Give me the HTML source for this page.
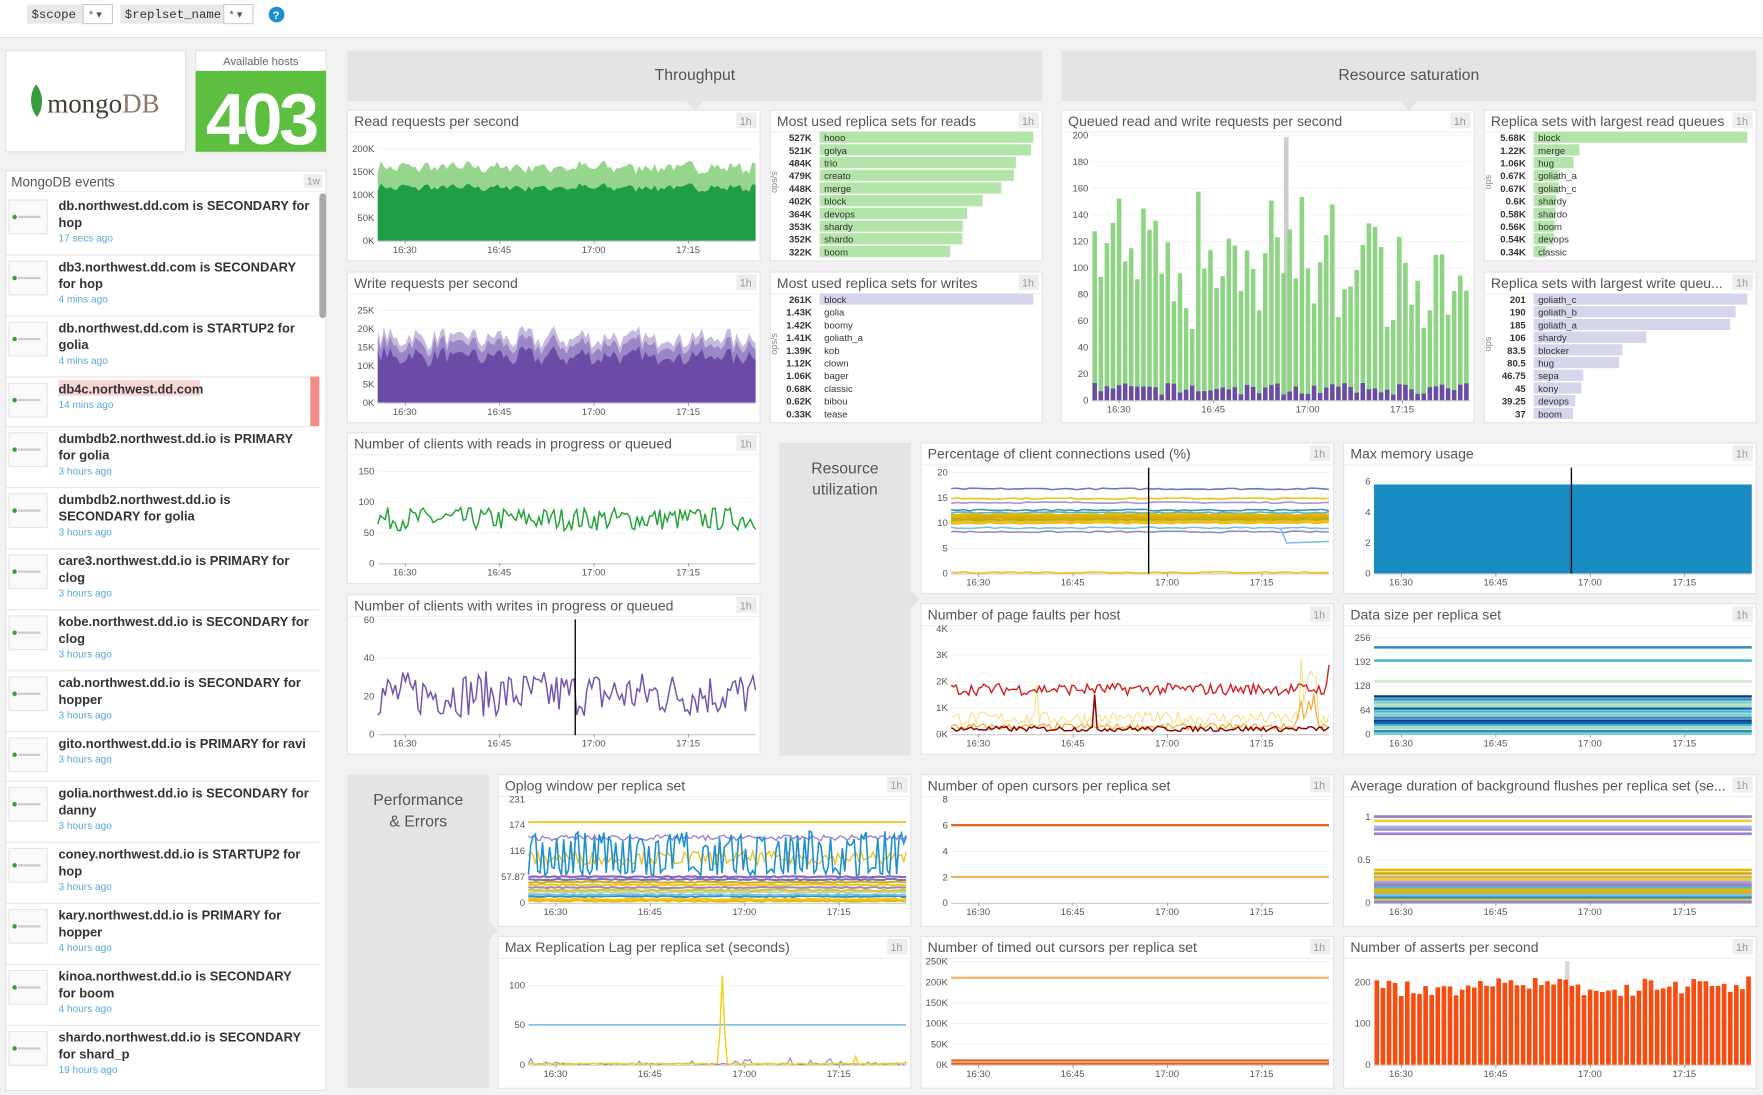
<!DOCTYPE html>
<html><head><meta charset="utf-8"><style>
html,body{margin:0;padding:0;width:1763px;height:1095px;overflow:hidden;background:#f2f2f2}
svg{display:block;font-family:"Liberation Sans",sans-serif}
</style></head><body>
<svg id="s" width="1763" height="1095" viewBox="0 0 1568 974" preserveAspectRatio="none" xmlns="http://www.w3.org/2000/svg"></svg>
<script>
var S=document.getElementById('s'),out=[];
function A(t){out.push(t)}
var seed=7;function R(){seed=(seed*16807)%2147483647;return (seed-1)/2147483646}
function rect(x,y,w,h,f,ex){A('<rect x="'+x+'" y="'+y+'" width="'+w+'" height="'+h+'" fill="'+f+'" '+(ex||'')+'/>')}
function text(x,y,t,sz,f,ex){A('<text x="'+x+'" y="'+y+'" font-size="'+sz+'" fill="'+f+'" '+(ex||'')+'>'+t+'</text>')}
// top bar
rect(0,0,1568,33,'#fff');rect(0,33,1568,1,'#ddd');
rect(24,4,50,17,'#e8e8e8');text(28,16,'$scope',11,'#333','font-family="Liberation Mono"');
rect(74,4,26,17,'#fff','stroke="#ccc"');text(79,16,'* ▾',10,'#555');
rect(107,4,92,17,'#e8e8e8');text(111,16,'$replset_name',11,'#333','font-family="Liberation Mono"');
rect(199,4,26,17,'#fff','stroke="#ccc"');text(204,16,'* ▾',10,'#555');
A('<circle cx="246" cy="13" r="7" fill="#1d8fd6"/>');text(242.5,17,'?',10,'#fff','font-weight="bold"');
// mongo logo
rect(5,45,160,90,'#fff','stroke="#e2e2e2"');
A('<path d="M32 75 C26 83 26 96 33 104 C39 96 39 83 32 75Z" fill="#3a9b3a"/>');
A('<text x="42" y="100" font-size="24" font-family="Liberation Serif" fill="#4a3c31">mongo<tspan fill="#8a7a66">DB</tspan></text>');
// hosts
rect(174,45,116,90,'#fff','stroke="#e2e2e2"');text(232,58,'Available hosts',10,'#666','text-anchor="middle"');
rect(174,63,116,72,'#5cbf3f');text(232,128,'403',64,'#fff','text-anchor="middle" font-weight="bold" letter-spacing="-3"');
// events
rect(5,152,285,818,'#fff','stroke="#e2e2e2"');text(10,166,'MongoDB events',12,'#555');
rect(270,155,17,12,'#eee');text(273,164,'1w',9,'#999');rect(5,170,285,1,'#eee');
rect(284,172,6,111,'#aaa','rx="3"');
var ev=[['db.northwest.dd.com is SECONDARY for','hop','17 secs ago'],['db3.northwest.dd.com is SECONDARY','for hop','4 mins ago'],['db.northwest.dd.com is STARTUP2 for','golia','4 mins ago'],['db4c.northwest.dd.com',null,'14 mins ago'],['dumbdb2.northwest.dd.io is PRIMARY','for golia','3 hours ago'],['dumbdb2.northwest.dd.io is','SECONDARY for golia','3 hours ago'],['care3.northwest.dd.io is PRIMARY for','clog','3 hours ago'],['kobe.northwest.dd.io is SECONDARY for','clog','3 hours ago'],['cab.northwest.dd.io is SECONDARY for','hopper','3 hours ago'],['gito.northwest.dd.io is PRIMARY for ravi',null,'3 hours ago'],['golia.northwest.dd.io is SECONDARY for','danny','3 hours ago'],['coney.northwest.dd.io is STARTUP2 for','hop','3 hours ago'],['kary.northwest.dd.io is PRIMARY for','hopper','4 hours ago'],['kinoa.northwest.dd.io is SECONDARY','for boom','4 hours ago'],['shardo.northwest.dd.io is SECONDARY','for shard_p','19 hours ago']];
var ey=172;
ev.forEach(function(e,i){var h=e[1]?54.3:44;
 if(i==3){rect(52,338,126,14,'#f9d6d6');rect(276,ey,8,h,'#f28b82');}
 rect(8,ey+6,34,30,'#fafafa','stroke="#e5e5e5"');A('<circle cx="13" cy="'+(ey+21)+'" r="2" fill="#3a9b3a"/>');rect(16,ey+20,20,2,'#ccc');
 text(52,ey+15,e[0],11.5,'#333','font-weight="bold"');
 if(e[1])text(52,ey+30,e[1],11.5,'#333','font-weight="bold"');
 text(52,ey+(e[1]?43:28),e[2],9,'#5aa7db');
 ey+=h;if(i<14)rect(5,ey,279,1,'#e6e6e6');});
// section headers
function hdr(x,w,t){rect(x,45,w,45,'#e4e4e4');A('<path d="M'+(x+w/2-8)+' 90 L'+(x+w/2)+' 98 L'+(x+w/2+8)+' 90Z" fill="#e4e4e4"/>');text(x+w/2,71,t,14,'#555','text-anchor="middle"');}
hdr(309,618,'Throughput');hdr(944,618,'Resource saturation');
function side(x,y,w,h,l1,l2,py){rect(x,y,w,h,'#e4e4e4');A('<path d="M'+(x+w)+' '+(py-8)+' L'+(x+w+8)+' '+py+' L'+(x+w)+' '+(py+8)+'Z" fill="#e4e4e4"/>');text(x+w/2,y+27,l1,14,'#555','text-anchor="middle"');text(x+w/2,y+46,l2,14,'#555','text-anchor="middle"');}
side(693,394,117,278,'Resource','utilization',533);side(309,689,126,279,'Performance','&amp; Errors',828);
function panel(x,y,w,h,t){rect(x,y,w,h,'#fff','stroke="#e4e4e4"');text(x+6,y+14,t,12.5,'#555');rect(x+w-21,y+2,18,14,'#eee');text(x+w-18,y+13,'1h',9.5,'#999');rect(x,y+19,w,1,'#f0f0f0');}
function chart(x,y,w,h,t,ymax,ticks,lab,o){o=o||{};panel(x,y,w,h,t);
 var L=x+(o.l||27),Rr=x+w-4,T=y+(o.t||34),B=y+h-(o.b||18);
 var c={L:L,R:Rr,T:T,B:B,X:function(m){return L+24*(Rr-L)/336+m*(Rr-L)/60},Y:function(v){return B-(v/ymax)*(B-T)}};
 ticks.forEach(function(v,i){var yy=c.Y(v);rect(L,yy,Rr-L,0.6,'#eee');text(L-3,yy+3,lab[i],8.5,'#555','text-anchor="end"');});
 rect(L,B,Rr-L,1,'#ccc');
 ['16:30','16:45','17:00','17:15'].forEach(function(s,i){var xx=c.X(i*15);rect(xx,B,0.8,3,'#999');text(xx,B+11,s,8.5,'#555','text-anchor="middle"');});
 return c;}
function series(c,n,f){var p=[];for(var i=0;i<=n;i++){var m=-4.3+60*i/n;p.push([c.X(m),c.Y(f(i,m))]);}return p;}
function line(p,col,sw){A('<polyline points="'+p.map(function(q){return q[0].toFixed(1)+','+q[1].toFixed(1)}).join(' ')+'" fill="none" stroke="'+col+'" stroke-width="'+(sw||1.2)+'"/>')}
function area(c,p,col){A('<polygon points="'+c.L+','+c.B+' '+p.map(function(q){return q[0].toFixed(1)+','+q[1].toFixed(1)}).join(' ')+' '+c.R+','+c.B+'" fill="'+col+'"/>')}
function clamp(c,p){p[0][0]=c.L;p[p.length-1][0]=c.R;return p}
var c=chart(309,98,367,134,'Read requests per second',200,[0,50,100,150,200],['0K','50K','100K','150K','200K']);
var base=[];for(var i=0;i<=120;i++)base.push(R());
area(c,clamp(c,series(c,120,function(i){return 148+base[i]*22+Math.sin(i*.9)*6})),'#95d68c');
area(c,clamp(c,series(c,120,function(i){return 108+base[i]*14+Math.sin(i*.9)*4})),'#1f9e45');
c=chart(309,242,367,134,'Write requests per second',25,[0,5,10,15,20,25],['0K','5K','10K','15K','20K','25K']);
base=[];for(i=0;i<=120;i++)base.push(R());
area(c,clamp(c,series(c,120,function(i){return 15+base[i]*5+Math.sin(i*.7)})),'#c4badf');
area(c,clamp(c,series(c,120,function(i){return 13.3+base[i]*4.5+Math.sin(i*.7)})),'#9a87c6');
area(c,clamp(c,series(c,120,function(i){return 10.5+base[i]*4+Math.sin(i*.7)})),'#6a4ca6');
c=chart(309,385,367,134,'Number of clients with reads in progress or queued',150,[0,50,100,150],['0','50','100','150']);
line(clamp(c,series(c,150,function(){return 72+(R()-.5)*38})),'#24a336',1.3);
c=chart(309,529,367,142,'Number of clients with writes in progress or queued',60,[0,20,40,60],['0','20','40','60'],{t:22});
line(clamp(c,series(c,150,function(){return 21+(R()-.5)*24})),'#6f55b0',1.3);rect(511,551,1.2,103,'#000');
function bars(x,y,w,h,t,items,col,max){panel(x,y,w,h,t);var vx=x+43,bx=x+44;
 text(x+10,y+60,t.indexOf('queu')>0?'ops':'ops/s',8,'#888','transform="rotate(-90 '+(x+10)+' '+(y+64)+')" text-anchor="middle"');
 items.forEach(function(it,i){var yy=y+19+i*11.3;rect(bx,yy,(w-bx+x-8)*it[2]/max,10,col);text(vx-6,yy+8.5,it[0],8.5,'#333','text-anchor="end" font-weight="bold"');text(bx+4,yy+8.5,it[1],8.5,'#333');});}
bars(685,98,242,134,'Most used replica sets for reads',[['527K','hooo',527],['521K','golya',521],['484K','trio',484],['479K','creato',479],['448K','merge',448],['402K','block',402],['364K','devops',364],['353K','shardy',353],['352K','shardo',352],['322K','boom',322]],'#b3e5aa',527);
bars(685,242,242,134,'Most used replica sets for writes',[['261K','block',261],['1.43K','golia',0],['1.42K','boomy',0],['1.41K','goliath_a',0],['1.39K','kob',0],['1.12K','clown',0],['1.06K','bager',0],['0.68K','classic',0],['0.62K','bibou',0],['0.33K','tease',0]],'#d5d5ec',261);
bars(1320,98,242,134,'Replica sets with largest read queues',[['5.68K','block',5.68],['1.22K','merge',1.22],['1.06K','hug',1.06],['0.67K','goliath_a',.67],['0.67K','goliath_c',.67],['0.6K','shardy',.6],['0.58K','shardo',.58],['0.56K','boom',.56],['0.54K','devops',.54],['0.34K','classic',.34]],'#b3e5aa',5.68);
bars(1320,242,242,134,'Replica sets with largest write queu...',[['201','goliath_c',201],['190','goliath_b',190],['185','goliath_a',185],['106','shardy',106],['83.5','blocker',83.5],['80.5','hug',80.5],['46.75','sepa',46.75],['45','kony',45],['39.25','devops',39.25],['37','boom',37]],'#d5d5ec',201);
c=chart(944,98,367,278,'Queued read and write requests per second',200,[0,20,40,60,80,100,120,140,160,180,200],['0','20','40','60','80','100','120','140','160','180','200'],{t:22,b:20});
rect(1142,122,4,234,'#ccc');
var nb=62,bw=(c.R-c.L)/nb;
for(i=0;i<nb;i++){var v=50+R()*80+(R()<.25?40:0);var bx=c.L+i*bw+0.6;rect(bx,c.Y(v),bw-1.4,c.B-c.Y(v),'#8dd483');var pv=4+R()*9;rect(bx,c.Y(pv),bw-1.4,c.B-c.Y(pv),'#6a4ca6');}
c=chart(819,394,367,134,'Percentage of client connections used (%)',20,[0,5,10,15,20],['0','5','10','15','20'],{t:26});
[[16.7,'#6c78c0'],[14.8,'#f0c419'],[14,'#a795cf'],[12.5,'#3a8fb7'],[12,'#5ab4c9'],[11.5,'#e1b80c'],[11,'#d4ae10'],[10.5,'#c9a80a'],[10.1,'#e8c020'],[9,'#7cbfe0'],[8.2,'#9988c8'],[0.2,'#f0c419']].forEach(function(s){line(series(c,60,function(){return s[0]+(R()-.5)*.3}),s[1],s[0]>10&&s[0]<12?3:1.4)});
line([[c.X(48),c.Y(9)],[c.X(49),c.Y(6)],[c.R,c.Y(6.3)]],'#7cbfe0',1.4);
rect(1021,416,1.2,94,'#000');
c=chart(1195,394,367,134,'Max memory usage',6.6,[0,2,4,6],['0','2','4','6'],{t:26});
rect(c.L,c.Y(5.8),c.R-c.L,c.B-c.Y(5.8),'#1a8bc2');rect(1397,416,1.2,94,'#000');
c=chart(819,537,367,134,'Number of page faults per host',4,[0,1,2,3,4],['0K','1K','2K','3K','4K'],{t:22});
line(clamp(c,series(c,150,function(i){return .5+(R()-.3)*.5+(i==34?1.4:0)+(i>138&&i<146?R()*2.5:0)})),'#fbe08a',1);
line(clamp(c,series(c,150,function(i){return .15+R()*.25+(i>136&&i<146?R()*1.3:0)})),'#f5a623',1);
line(clamp(c,series(c,150,function(i){return 1.7+(R()-.5)*.45+(i==150?.8:0)})),'#d7191c',1.2);
line(clamp(c,series(c,150,function(i){return .1+R()*.2+(i==57?1.2:0)})),'#8b0000',1.3);
c=chart(1195,537,367,134,'Data size per replica set',256,[0,64,128,192,256],['0','64','128','192','256'],{t:30});
[[230,'#2b8cbe'],[195,'#4eb3d3'],[140,'#ccebc5'],[100,'#084081'],[92,'#2b8cbe'],[84,'#7bccc4'],[76,'#a8ddb5'],[68,'#0868ac'],[60,'#4eb3d3'],[52,'#7bccc4'],[44,'#2b8cbe'],[36,'#084081'],[30,'#0868ac'],[24,'#4eb3d3'],[16,'#a8ddb5'],[8,'#2b8cbe'],[2,'#7bccc4']].forEach(function(s){rect(c.L,c.Y(s[0])-1,c.R-c.L,2.2,s[1])});
c=chart(443,689,367,135,'Oplog window per replica set',231,[0,57.87,116,174,231],['0','57.87','116','174','231'],{t:22,b:21});
[[4,'#e1b80c'],[8,'#f0c419'],[14,'#3a8fb7'],[18,'#7cbfe0'],[24,'#a8ddb5'],[28,'#e8c020'],[34,'#9988c8'],[40,'#f0c419'],[46,'#d4ae10'],[52,'#6c78c0'],[58,'#9b59b6']].forEach(function(s){line(series(c,100,function(){return s[0]+(R()-.5)*3}),s[1],1.8)});
line(series(c,10,function(){return 180}),'#f0c419',1.5);
line(clamp(c,series(c,160,function(){return 100+(R()-.5)*30})),'#e8c020',1.2);
line(clamp(c,series(c,160,function(){return 145+(R()-.5)*12})),'#9b7fcf',1.2);
line(clamp(c,series(c,160,function(){return R()<.5?60+R()*20:120+R()*40})),'#1e90d0',1.4);
c=chart(819,689,367,135,'Number of open cursors per replica set',8,[0,2,4,6,8],['0','2','4','6','8'],{t:22,b:21});
rect(c.L,c.Y(6)-1,c.R-c.L,2,'#e8601c');rect(c.L,c.Y(2)-1,c.R-c.L,2,'#f5b461');
c=chart(1195,689,367,135,'Average duration of background flushes per replica set (se...',1.2,[0,0.5,1],['0','0.5','1'],{t:22,b:21});
[[1,'#9b7fcf'],[.95,'#f0d030'],[.88,'#a5b8e0'],[.85,'#a795cf'],[.8,'#9b7fcf'],[.38,'#e1b80c'],[.34,'#d4ae10'],[.3,'#c9b26a'],[.27,'#f0d030'],[.24,'#b0a0d8'],[.21,'#9b7fcf'],[.18,'#5ab4c9'],[.15,'#e1b80c'],[.12,'#d4ae10'],[.09,'#7cbfe0'],[.06,'#3a8fb7'],[.03,'#f0d030'],[.01,'#9b7fcf']].forEach(function(s){rect(c.L,c.Y(s[0])-1.2,c.R-c.L,2.4,s[1])});
c=chart(443,833,367,135,'Max Replication Lag per replica set (seconds)',130,[0,50,100],['0','50','100'],{t:22,b:21});
rect(c.L,c.Y(50)-0.7,c.R-c.L,1.4,'#79bde2');
line(clamp(c,series(c,150,function(){return R()<.2?R()*8:R()*2})),'#9b7fcf',1);
line(clamp(c,series(c,150,function(i){return i==77?112:(i==76||i==78?40:(i==130?10:R()*2))})),'#f0d020',1.3);
c=chart(819,833,367,135,'Number of timed out cursors per replica set',250,[0,50,100,150,200,250],['0K','50K','100K','150K','200K','250K'],{t:22,b:21});
rect(c.L,c.Y(210)-1,c.R-c.L,2,'#f5b461');rect(c.L,c.Y(10)-1,c.R-c.L,2,'#e8601c');rect(c.L,c.B-2,c.R-c.L,2,'#e8601c');
c=chart(1195,833,367,135,'Number of asserts per second',250,[0,100,200],['0','100','200'],{t:22,b:21});
rect(1392,855,4,40,'#d8d8d8');
nb=62;bw=(c.R-c.L)/nb;
for(i=0;i<nb;i++){v=165+R()*45+(R()<.15?20:0);rect(c.L+i*bw+0.5,c.Y(v),bw-1.3,c.B-c.Y(v),'#fc4b0e');}
S.innerHTML=out.join('');
</script>
</body></html>
